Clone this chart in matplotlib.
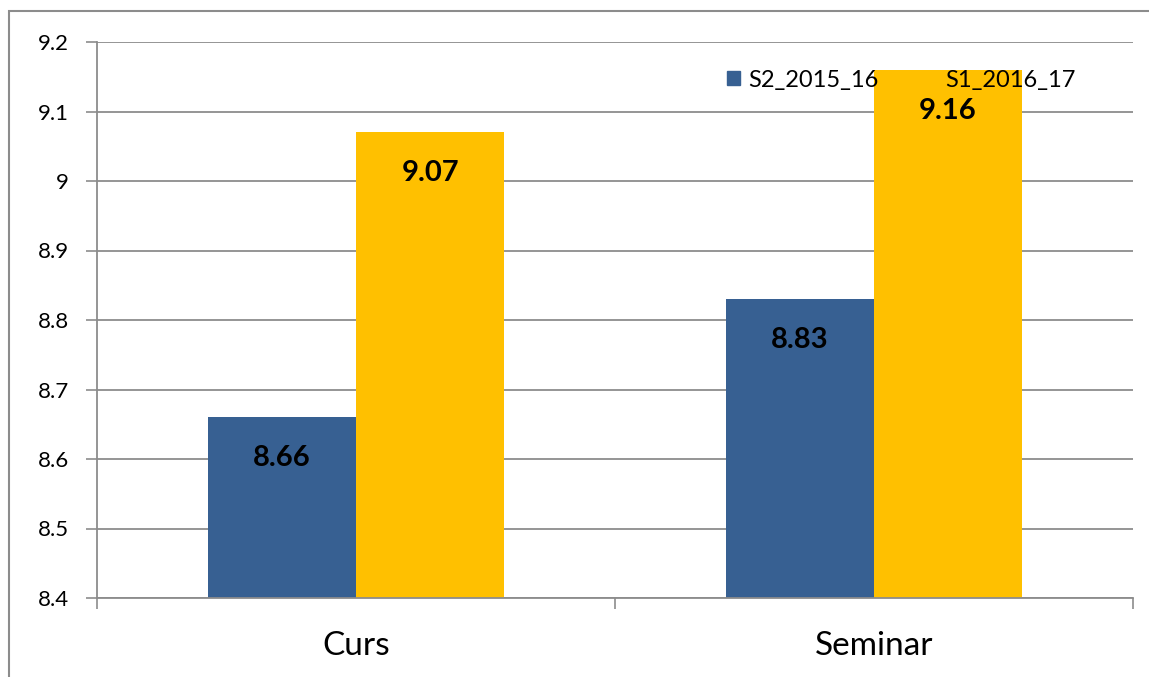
import matplotlib
matplotlib.use("Agg")
import matplotlib.pyplot as plt
import numpy as np
from matplotlib.patches import Rectangle, Patch

categories = ["Curs", "Seminar"]
series_names = ["S2_2015_16", "S1_2016_17"]
s2_2015_16 = [8.66, 8.83]
s1_2016_17 = [9.07, 9.16]
yticks = [8.4, 8.5, 8.6, 8.7, 8.8, 8.9, 9.0, 9.1, 9.2]
ytick_labels = ["8.4", "8.5", "8.6", "8.7", "8.8", "8.9", "9", "9.1", "9.2"]

colors = ["#376092", "#FFC000"]
plt.rcParams['font.family'] = ['Lato', 'DejaVu Sans']

W, H = 1149, 677
fig = plt.figure(figsize=(W/100, H/100), dpi=100)
ax = fig.add_axes([97/W, 1-598/H, (1133-97)/W, (598-42)/H])

# outer frame
fig.patches.append(Rectangle((9/W, -0.1), 1.2, 1.1 - 11/H, transform=fig.transFigure,
                             fill=False, edgecolor="#8c8c8c", linewidth=1.5, zorder=0))

x = np.arange(len(categories))
bw = 0.286
b1 = ax.bar(x - bw/2, np.array(s2_2015_16) - 8.4, bw, bottom=8.4, color=colors[0], zorder=3)
b2 = ax.bar(x + bw/2, np.array(s1_2016_17) - 8.4, bw, bottom=8.4, color=colors[1], zorder=3)

for bars, vals in ((b1, s2_2015_16), (b2, s1_2016_17)):
    for r, v in zip(bars, vals):
        ax.text(r.get_x() + r.get_width()/2, v - 0.059, f"{v:.2f}", ha="center", va="center",
                fontsize=21, fontweight="bold", color="black", zorder=6)

ax.set_xlim(-0.5, 1.5)
ax.set_ylim(8.4, 9.2)
ax.set_yticks(yticks)
ax.set_yticklabels(ytick_labels, fontsize=16)
ax.set_xticks(x)
ax.set_xticklabels(categories, fontsize=24)
ax.set_xticks([-0.5, 0.5, 1.5], minor=True)
ax.tick_params(axis="x", which="major", length=0, pad=24)
ax.tick_params(axis="x", which="minor", length=8, width=1.2, color="#8c8c8c")
ax.tick_params(axis="y", length=8, width=1.2, color="#8c8c8c", pad=12)
ax.grid(axis="y", color="#8c8c8c", linewidth=1.3, zorder=1)
for s in ["top", "right"]:
    ax.spines[s].set_visible(False)
for s in ["left", "bottom"]:
    ax.spines[s].set_color("#8c8c8c")
    ax.spines[s].set_linewidth(1.3)
    ax.spines[s].set_zorder(4)

handles = [Patch(color=c) for c in colors]
leg = ax.legend(handles, series_names, loc="center left",
                bbox_to_anchor=((727-97)/1036, (598-80)/556),
                ncol=2, frameon=False, fontsize=17, handlelength=0.55, handleheight=0.55,
                handletextpad=0.35, columnspacing=1.9, borderpad=0, borderaxespad=0)
leg.set_zorder(5)

fig.savefig("out.png", dpi=100)
